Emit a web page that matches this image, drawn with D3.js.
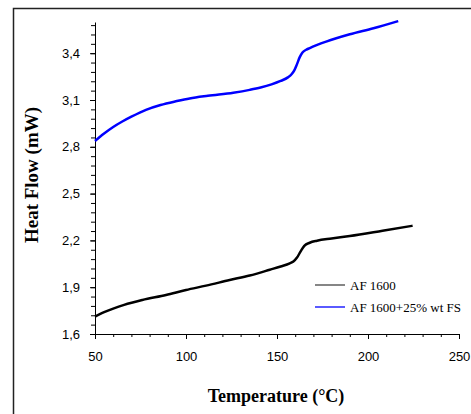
<!DOCTYPE html>
<html>
<head>
<meta charset="utf-8">
<script src="https://cdn.jsdelivr.net/npm/d3@7"></script>
<style>
html,body{margin:0;padding:0;background:#fff;}
svg{display:block;}
</style>
</head>
<body>
<svg id="chart" width="471" height="414"></svg>
<script>
// ---- data ----
const seriesNames = ["AF 1600", "AF 1600+25% wt FS"];
const seriesColors = ["#000000", "#0000ff"];
const af1600 = [
  [50,1.712],[55,1.740],[60,1.763],[66,1.787],[76,1.818],[89,1.850],[100,1.882],
  [111,1.910],[124,1.946],[135,1.975],[146,2.012],[152,2.033],[157,2.053],[159,2.065],
  [161,2.090],[163,2.130],[165,2.165],[168,2.185],[172,2.198],[180,2.212],[190,2.228],
  [208,2.262],[224.5,2.294]
];
const af1600fs = [
  [50,2.837],[55,2.885],[60,2.927],[65,2.962],[70,2.993],[78,3.037],[86,3.068],[95,3.093],
  [102,3.110],[112,3.127],[126,3.147],[135,3.165],[141,3.180],[147,3.200],[152,3.222],
  [156,3.245],[158,3.265],[159.5,3.290],[161,3.330],[162.5,3.375],[164,3.405],[166,3.422],
  [168,3.433],[177,3.474],[190,3.521],[203,3.560],[216.6,3.606]
];
const xTicks = [50,100,150,200,250];
const yTicks = [1.6,1.9,2.2,2.5,2.8,3.1,3.4];
const yTickLabels = ["1,6","1,9","2,2","2,5","2,8","3,1","3,4"];
const xTitle = "Temperature (°C)";
const yTitle = "Heat Flow (mW)";

// ---- chart ----
const svg = d3.select("#chart");
svg.append("rect").attr("x",13.5).attr("y",8.5).attr("width",520).attr("height",520)
  .attr("fill","none").attr("stroke","#222").attr("stroke-width",1.5);

const x = d3.scaleLinear().domain([50,250]).range([95,459]);
const y = d3.scaleLinear().domain([1.6,3.6]).range([334,22]);

const xMinor = d3.range(50,251,10);
const yMinor = d3.range(0,34).map(i => +(1.6 + i*0.06).toFixed(2)).filter(v => v <= 3.6);

const gx = svg.append("g").attr("transform","translate(0,334)");
gx.call(d3.axisBottom(x).tickValues(xMinor).tickSize(3).tickFormat(""));
gx.call(g => g.select(".domain").remove());
const gx2 = svg.append("g").attr("transform","translate(0,334)");
gx2.call(d3.axisBottom(x).tickValues(xTicks).tickSize(5).tickSizeOuter(0).tickPadding(13).tickFormat(d3.format("d")));
gx2.selectAll("text").attr("font-family","'Liberation Sans', Arial, sans-serif").attr("font-size",13).attr("fill","#000");

const gy = svg.append("g").attr("transform","translate(95,0)");
gy.call(d3.axisLeft(y).tickValues(yMinor).tickSize(4).tickFormat(""));
gy.call(g => g.select(".domain").remove());
const gy2 = svg.append("g").attr("transform","translate(95,0)");
gy2.call(d3.axisLeft(y).tickValues(yTicks).tickSize(5).tickSizeOuter(0).tickPadding(10)
  .tickFormat((d,i) => yTickLabels[i]));
gy2.selectAll("text").attr("font-family","'Liberation Sans', Arial, sans-serif").attr("font-size",13).attr("fill","#000");

svg.selectAll(".domain").attr("stroke","#000");
svg.selectAll(".tick line").attr("stroke","#000");

const line = d3.line().x(d => x(d[0])).y(d => y(d[1])).curve(d3.curveMonotoneX);
[af1600, af1600fs].forEach((s,i) => {
  svg.append("path").datum(s).attr("d",line).attr("fill","none")
    .attr("stroke",seriesColors[i]).attr("stroke-width",2.5).attr("stroke-linejoin","round");
});

// legend
const leg = svg.append("g");
seriesNames.forEach((n,i) => {
  const yy = 285 + i*22;
  leg.append("line").attr("x1",315).attr("x2",345).attr("y1",yy).attr("y2",yy)
    .attr("stroke", i===0 ? "#444" : "#0000ff").attr("stroke-width",1.3);
  leg.append("text").attr("x",350).attr("y",yy+4.5).text(n)
    .attr("font-family","'Liberation Serif', 'Times New Roman', serif").attr("font-size",13).attr("fill","#000");
});

// titles
svg.append("text").attr("x",276).attr("y",402).attr("text-anchor","middle")
  .attr("font-family","'Liberation Serif', 'Times New Roman', serif").attr("font-weight","bold")
  .attr("font-size",18).text(xTitle);
svg.append("text").attr("transform","translate(38,175) rotate(-90)").attr("text-anchor","middle")
  .attr("font-family","'Liberation Serif', 'Times New Roman', serif").attr("font-weight","bold")
  .attr("font-size",19).text(yTitle);
</script>
</body>
</html>
